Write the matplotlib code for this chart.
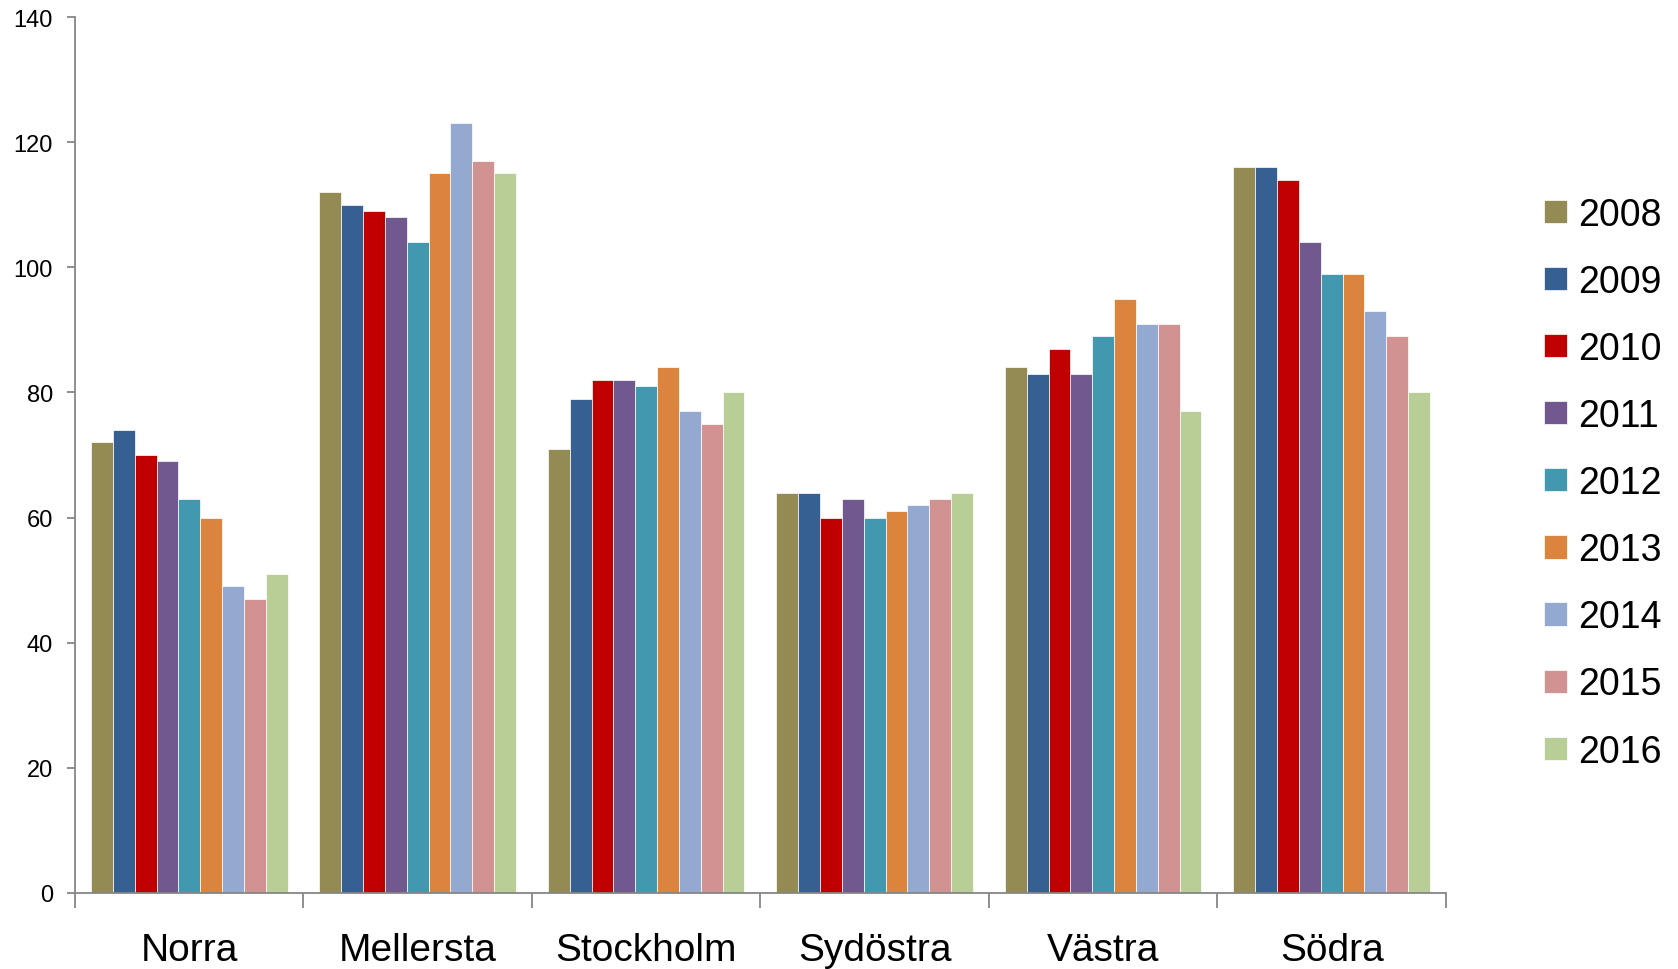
import numpy as np
import matplotlib
matplotlib.use("Agg")
import matplotlib.pyplot as plt

# Data
regions = ["Norra", "Mellersta", "Stockholm", "Sydöstra", "Västra", "Södra"]
years = ["2008", "2009", "2010", "2011", "2012", "2013", "2014", "2015", "2016"]
values = {
    "2008": [72, 112, 71, 64, 84, 116],
    "2009": [74, 110, 79, 64, 83, 116],
    "2010": [70, 109, 82, 60, 87, 114],
    "2011": [69, 108, 82, 63, 83, 104],
    "2012": [63, 104, 81, 60, 89, 99],
    "2013": [60, 115, 84, 61, 95, 99],
    "2014": [49, 123, 77, 62, 91, 93],
    "2015": [47, 117, 75, 63, 91, 89],
    "2016": [51, 115, 80, 64, 77, 80],
}
colors = ["#948A54", "#366092", "#C00000", "#71588F", "#4298AF",
          "#DB843D", "#93A9CF", "#D19392", "#B9CD96"]

plt.rcParams['font.family'] = ['Liberation Sans', 'DejaVu Sans']

fig = plt.figure(figsize=(16.78, 9.70), dpi=100)
ax = fig.add_axes([0.0447, 0.0784, 0.817, 0.903])

x = np.arange(len(regions))
n = len(years)
bw = 0.86 / n
for i, yr in enumerate(years):
    offs = (i - (n - 1) / 2) * bw
    ax.bar(x + offs, values[yr], width=bw, color=colors[i],
           edgecolor="white", linewidth=0.5, label=yr)

# Axes styling
grey = "#868686"
ax.set_xlim(-0.5, len(regions) - 0.5)
ax.set_ylim(0, 140)
ax.set_yticks(np.arange(0, 141, 20))
ax.spines["top"].set_visible(False)
ax.spines["right"].set_visible(False)
ax.spines["left"].set_color(grey)
ax.spines["bottom"].set_color(grey)
ax.spines["left"].set_linewidth(1.3)
ax.spines["bottom"].set_linewidth(1.3)

ax.tick_params(axis="y", direction="out", length=6, width=1.3, color=grey,
               labelsize=17, pad=10)
ax.set_xticks(np.arange(-0.5, len(regions), 1.0))
ax.set_xticklabels([])
ax.tick_params(axis="x", which="major", direction="out", length=11, width=1.3, color=grey)
ax.set_xticks(x, minor=True)
ax.set_xticklabels(regions, minor=True)
ax.tick_params(axis="x", which="minor", length=0, labelsize=28, pad=28)

ax.legend(loc="center left", bbox_to_anchor=(0.920, 0.501),
          bbox_transform=fig.transFigure, frameon=False, fontsize=27,
          handlelength=0.62, handleheight=0.58, handletextpad=0.3,
          labelspacing=0.83, borderpad=0, borderaxespad=0)

plt.savefig("out.png")
